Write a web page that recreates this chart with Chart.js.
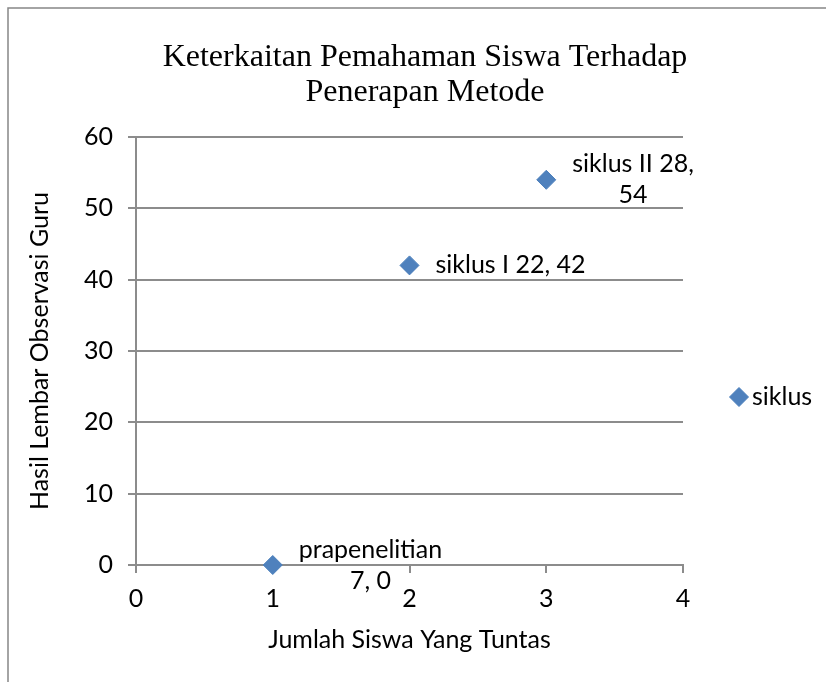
<!DOCTYPE html>
<html lang="id">
<head>
<meta charset="utf-8">
<title>Keterkaitan Pemahaman Siswa Terhadap Penerapan Metode</title>
<script src="https://cdn.jsdelivr.net/npm/chart.js@4/dist/chart.umd.min.js"></script>
<style>
    html, body { margin: 0; padding: 0; background: #ffffff; }
    #wrap { width: 826px; height: 682px; }
</style>
</head>
<body>
<div id="wrap"><canvas id="scatterChart" width="826" height="682"></canvas></div>
<script>
// ========================================
// DATA
// ========================================
const seriesName = 'siklus';
const pointNames = ['prapenelitian 7', 'siklus I 22', 'siklus II 28'];
const xValues = [1, 2, 3];
const yValues = [0, 42, 54];
const titleLines = ['Keterkaitan Pemahaman Siswa Terhadap', 'Penerapan Metode'];
const xTitle = 'Jumlah Siswa Yang Tuntas';
const yTitle = 'Hasil Lembar Observasi Guru';

// ========================================
// ESTILO
// ========================================
const SANS = 'Lato, "Liberation Sans", sans-serif';
const SERIF = '"Liberation Serif", "Times New Roman", serif';
const GRID = '#8c8c8c';
const BLUE = '#4F81BD';
const BLUE_EDGE = '#4A7EBB';
const labelMaxWidth = [150, 220, 130];

Chart.defaults.font.family = SANS;
Chart.defaults.color = '#000000';

// quebra simples de texto por largura
function wrapText(ctx, text, maxWidth) {
    const words = text.split(' ');
    const lines = [];
    let line = '';
    words.forEach(w => {
        const test = line ? line + ' ' + w : w;
        if (line && ctx.measureText(test).width > maxWidth) {
            lines.push(line);
            line = w;
        } else {
            line = test;
        }
    });
    if (line) lines.push(line);
    return lines;
}

// moldura, título, rótulos e legenda
const decorPlugin = {
    id: 'decor',
    beforeDraw(chart) {
        const ctx = chart.ctx;
        ctx.save();
        ctx.strokeStyle = '#868686';
        ctx.lineWidth = 1.5;
        ctx.strokeRect(8, 8, 1000, 1000);
        ctx.restore();
    },
    afterDraw(chart) {
        const ctx = chart.ctx;
        ctx.save();

        // título
        ctx.font = '32px ' + SERIF;
        ctx.fillStyle = '#000000';
        ctx.textAlign = 'center';
        ctx.textBaseline = 'alphabetic';
        titleLines.forEach((t, i) => ctx.fillText(t, 425, 66 + i * 35));

        // rótulos dos pontos
        ctx.font = '25px ' + SANS;
        ctx.textBaseline = 'middle';
        const meta = chart.getDatasetMeta(0);
        meta.data.forEach((pt, i) => {
            const text = pointNames[i] + ', ' + yValues[i];
            const lines = wrapText(ctx, text, labelMaxWidth[i]);
            const boxW = Math.max(...lines.map(l => ctx.measureText(l).width));
            const cx = pt.x + 26 + boxW / 2;
            const lineH = 31;
            const y0 = pt.y - (lines.length - 1) * lineH / 2;
            lines.forEach((l, j) => ctx.fillText(l, cx, y0 + j * lineH));
        });

        // legenda
        ctx.fillStyle = BLUE;
        ctx.strokeStyle = BLUE_EDGE;
        ctx.lineWidth = 1;
        Chart.helpers.drawPoint(ctx, { pointStyle: 'rectRot', radius: 9.5, borderWidth: 1 }, 739, 397);
        ctx.fillStyle = '#000000';
        ctx.textAlign = 'left';
        ctx.fillText(seriesName, 752, 397);

        ctx.restore();
    }
};

const ctx = document.getElementById('scatterChart');
const scatterChart = new Chart(ctx, {
    type: 'scatter',
    data: {
        datasets: [{
            label: seriesName,
            data: xValues.map((x, i) => ({ x: x, y: yValues[i] })),
            pointStyle: 'rectRot',
            pointRadius: 9.5,
            pointHoverRadius: 9.5,
            backgroundColor: BLUE,
            borderColor: BLUE_EDGE,
            borderWidth: 1,
            clip: false
        }]
    },
    options: {
        responsive: false,
        animation: false,
        layout: {
            padding: { left: 0, top: 137, right: 143, bottom: 0 }
        },
        plugins: {
            legend: { display: false },
            title: { display: false },
            tooltip: { enabled: false }
        },
        scales: {
            x: {
                type: 'linear',
                min: 0,
                max: 4,
                afterFit: scale => { scale.height = 117; },
                ticks: {
                    stepSize: 1,
                    padding: 11,
                    font: { size: 25 },
                    color: '#000000'
                },
                grid: {
                    drawOnChartArea: false,
                    drawTicks: true,
                    tickLength: 8,
                    color: GRID,
                    lineWidth: 2
                },
                border: { display: true, color: GRID, width: 2 },
                title: {
                    display: true,
                    text: xTitle,
                    font: { size: 25 },
                    color: '#000000',
                    padding: { top: 0, bottom: 27 }
                }
            },
            y: {
                min: 0,
                max: 60,
                afterFit: scale => { scale.width = 136; },
                ticks: {
                    stepSize: 10,
                    padding: 15,
                    font: { size: 25 },
                    color: '#000000'
                },
                grid: {
                    drawTicks: true,
                    tickLength: 8,
                    color: GRID,
                    lineWidth: 2
                },
                border: { display: true, color: GRID, width: 2 },
                title: {
                    display: true,
                    text: yTitle,
                    font: { size: 25 },
                    color: '#000000',
                    padding: { top: 25, bottom: 0 }
                }
            }
        }
    },
    plugins: [decorPlugin]
});
</script>
</body>
</html>
